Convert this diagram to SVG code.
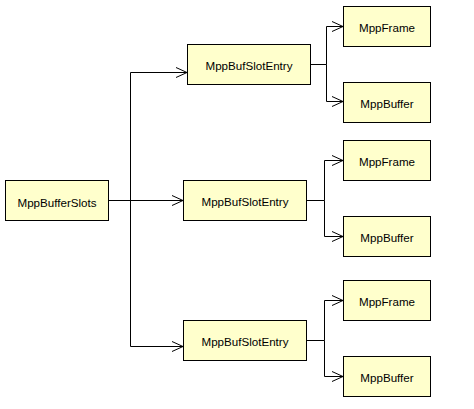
<svg xmlns="http://www.w3.org/2000/svg" width="474" height="409" viewBox="0 0 474 409">
<style>
.box{fill:#FFFFCC;stroke:#000;stroke-width:1}
.lbl{font-family:"Liberation Sans",Arial,sans-serif;font-size:11.6px;fill:#000;text-anchor:middle}
.ln{fill:none;stroke:#000;stroke-width:1}
</style>
<defs>
<marker id="arr" markerWidth="14" markerHeight="12" refX="12" refY="6" orient="auto" markerUnits="userSpaceOnUse">
<path d="M1,1 L12,6 L1,11" fill="none" stroke="#000" stroke-width="1"/>
</marker>
</defs>
<rect width="474" height="409" fill="#fff"/>
<g id="connectors">
<path class="ln" d="M109,200.5 H183" marker-end="url(#arr)"/>
<path class="ln" d="M130.5,200.5 V72.5 H187" marker-end="url(#arr)"/>
<path class="ln" d="M130.5,200.5 V346.5 H183" marker-end="url(#arr)"/>
<path class="ln" d="M310,64.5 H326.5 V26.5 H343" marker-end="url(#arr)"/>
<path class="ln" d="M326.5,64.5 V101.5 H343" marker-end="url(#arr)"/>
<path class="ln" d="M306,200.5 H324.5 V160.5 H343" marker-end="url(#arr)"/>
<path class="ln" d="M324.5,200.5 V236.5 H343" marker-end="url(#arr)"/>
<path class="ln" d="M306,340.5 H324.5 V300.5 H343" marker-end="url(#arr)"/>
<path class="ln" d="M324.5,340.5 V376.5 H343" marker-end="url(#arr)"/>
</g>
<g id="slots"><rect class="box" x="5.5" y="180.5" width="103" height="40"/><text class="lbl" x="57" y="206.5">MppBufferSlots</text></g>
<g id="entry1"><rect class="box" x="187.5" y="44.5" width="123" height="40"/><text class="lbl" x="249" y="70">MppBufSlotEntry</text></g>
<g id="entry2"><rect class="box" x="183.5" y="180.5" width="123" height="40"/><text class="lbl" x="245" y="206">MppBufSlotEntry</text></g>
<g id="entry3"><rect class="box" x="183.5" y="320.5" width="123" height="40"/><text class="lbl" x="245" y="346">MppBufSlotEntry</text></g>
<g id="frame1"><rect class="box" x="343.5" y="6.5" width="87" height="40"/><text class="lbl" x="387" y="32">MppFrame</text></g>
<g id="buffer1"><rect class="box" x="343.5" y="82.5" width="87" height="40"/><text class="lbl" x="387" y="108">MppBuffer</text></g>
<g id="frame2"><rect class="box" x="343.5" y="140.5" width="87" height="40"/><text class="lbl" x="387" y="166">MppFrame</text></g>
<g id="buffer2"><rect class="box" x="343.5" y="216.5" width="87" height="40"/><text class="lbl" x="387" y="242">MppBuffer</text></g>
<g id="frame3"><rect class="box" x="343.5" y="280.5" width="87" height="40"/><text class="lbl" x="387" y="306">MppFrame</text></g>
<g id="buffer3"><rect class="box" x="343.5" y="356.5" width="87" height="40"/><text class="lbl" x="387" y="382">MppBuffer</text></g>
</svg>
